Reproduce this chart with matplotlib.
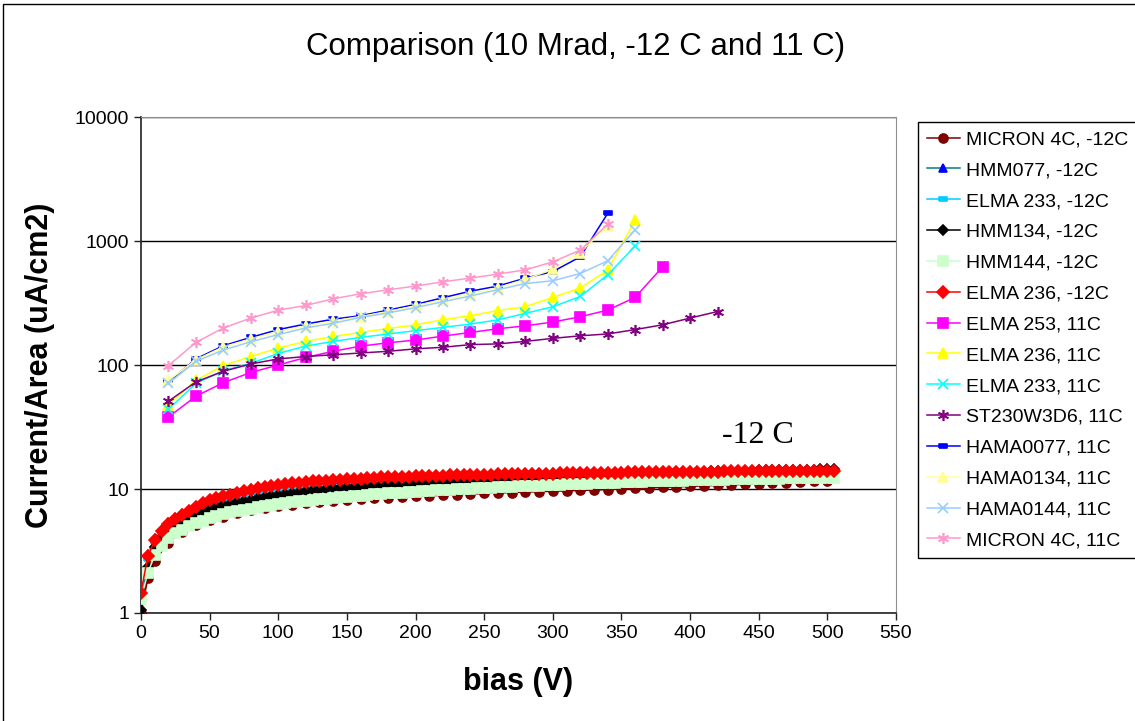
import matplotlib.pyplot as plt
from matplotlib.patches import Rectangle
from matplotlib.ticker import NullLocator
import numpy as np

plt.rcParams['font.family'] = ['Liberation Sans', 'DejaVu Sans']

# bias grids (V)
bias_cold = np.arange(0, 510, 5)
bias_micron_cold = np.concatenate([[0, 5, 10], np.arange(20, 510, 10)])
bias_warm_340 = np.arange(20, 341, 20)
bias_warm_360 = np.arange(20, 361, 20)
bias_warm_380 = np.arange(20, 381, 20)
bias_warm_420 = np.arange(20, 421, 20)

# -12 C series (uA/cm2)
micron_cold = [1.0, 1.9, 2.64,
               3.7, 4.5, 5.1, 5.6, 6.0, 6.4, 6.75, 7.05, 7.3, 7.45,
               7.65, 7.8, 7.95, 8.1, 8.25, 8.4, 8.5, 8.6, 8.7, 8.8,
               8.9, 9.0, 9.1, 9.2, 9.3, 9.35, 9.45, 9.5, 9.6, 9.65,
               9.75, 9.8, 9.9, 10.0, 10.1, 10.2, 10.3, 10.4, 10.5, 10.6,
               10.7, 10.8, 10.9, 11.0, 11.1, 11.2, 11.35, 11.5, 11.65]

hmm077_cold = [1.3, 3.0, 4.0, 4.75, 5.4, 5.9, 6.35, 6.8, 7.35, 7.85,
               8.25, 8.6, 8.9, 9.2, 9.5, 9.8, 10.1, 10.35, 10.6, 10.8,
               11.0, 11.15, 11.3, 11.45, 11.6, 11.7, 11.8, 11.9, 12.0, 12.1,
               12.2, 12.3, 12.35, 12.45, 12.5, 12.6, 12.65, 12.7, 12.75, 12.8,
               12.9, 12.95, 13.0, 13.05, 13.05, 13.1, 13.15, 13.15, 13.2, 13.25,
               13.3, 13.3, 13.35, 13.4, 13.4, 13.45, 13.5, 13.5, 13.55, 13.55,
               13.6, 13.6, 13.65, 13.65, 13.7, 13.7, 13.75, 13.75, 13.8, 13.8,
               13.85, 13.85, 13.9, 13.9, 13.95, 13.95, 14.0, 14.0, 14.0, 14.05,
               14.05, 14.05, 14.05, 14.05, 14.05, 14.05, 14.05, 14.05, 14.05, 14.05,
               14.05, 14.05, 14.05, 14.05, 14.05, 14.05, 14.05, 14.05, 14.05, 14.05,
               14.05, 14.05]

elma233_cold = [1.37, 2.75, 3.75, 4.45, 5.0, 5.5, 5.95, 6.35, 6.8, 7.2,
                7.55, 7.8, 8.0, 8.3, 8.55, 8.9, 9.2, 9.35, 9.5, 9.65,
                9.8, 9.9, 10.0, 10.1, 10.2, 10.3, 10.4, 10.5, 10.6, 10.7,
                10.8, 10.85, 10.9, 10.95, 11.0, 11.05, 11.1, 11.15, 11.2, 11.25,
                11.3, 11.35, 11.4, 11.4, 11.45, 11.5, 11.55, 11.55, 11.6, 11.65,
                11.7, 11.7, 11.75, 11.8, 11.8, 11.85, 11.85, 11.9, 11.9, 11.95,
                12.0, 12.0, 12.05, 12.05, 12.1, 12.1, 12.1, 12.15, 12.15, 12.2,
                12.2, 12.2, 12.2, 12.25, 12.25, 12.25, 12.3, 12.3, 12.3, 12.3,
                12.3, 12.3, 12.35, 12.35, 12.35, 12.35, 12.4, 12.4, 12.4, 12.4,
                12.4, 12.4, 12.45, 12.45, 12.45, 12.45, 12.5, 12.5, 12.5, 12.5,
                12.5, 12.5]

hmm134_cold = [1.05, 2.36, 3.38, 4.1, 4.65, 5.1, 5.5, 5.95, 6.35, 6.65,
               6.95, 7.2, 7.4, 7.6, 7.8, 8.0, 8.2, 8.4, 8.6, 8.8,
               9.0, 9.15, 9.3, 9.45, 9.6, 9.75, 9.9, 10.0, 10.1, 10.2,
               10.3, 10.4, 10.5, 10.6, 10.7, 10.8, 10.9, 11.0, 11.05, 11.1,
               11.2, 11.3, 11.4, 11.45, 11.5, 11.6, 11.65, 11.7, 11.8, 11.9,
               12.0, 12.05, 12.1, 12.2, 12.25, 12.3, 12.35, 12.4, 12.5, 12.55,
               12.6, 12.65, 12.7, 12.75, 12.8, 12.85, 12.9, 13.0, 13.05, 13.1,
               13.2, 13.25, 13.3, 13.35, 13.4, 13.45, 13.5, 13.55, 13.6, 13.65,
               13.7, 13.75, 13.8, 13.85, 13.9, 13.9, 13.95, 14.0, 14.05, 14.05,
               14.1, 14.15, 14.2, 14.2, 14.25, 14.3, 14.3, 14.35, 14.35, 14.4,
               14.4, 14.45]

hmm144_cold = [1.3, 2.1, 2.93, 3.5, 4.0, 4.4, 4.7, 5.0, 5.3, 5.5,
               5.8, 6.05, 6.3, 6.5, 6.65, 6.8, 6.95, 7.1, 7.25, 7.4,
               7.55, 7.7, 7.8, 7.95, 8.05, 8.15, 8.25, 8.35, 8.45, 8.55,
               8.65, 8.75, 8.85, 8.95, 9.05, 9.1, 9.2, 9.3, 9.35, 9.45,
               9.5, 9.6, 9.65, 9.75, 9.8, 9.85, 9.95, 10.0, 10.05, 10.1,
               10.2, 10.25, 10.3, 10.35, 10.4, 10.5, 10.55, 10.6, 10.65, 10.7,
               10.8, 10.85, 10.9, 10.95, 11.0, 11.05, 11.1, 11.15, 11.2, 11.25,
               11.3, 11.35, 11.4, 11.45, 11.5, 11.55, 11.6, 11.6, 11.65, 11.7,
               11.75, 11.8, 11.8, 11.85, 11.9, 11.9, 11.95, 12.0, 12.0, 12.05,
               12.1, 12.1, 12.15, 12.15, 12.2, 12.2, 12.25, 12.25, 12.3, 12.3,
               12.35, 12.35]

elma236_cold = [1.46, 2.87, 3.85, 4.6, 5.2, 5.75, 6.15, 6.6, 7.2, 7.7,
                8.1, 8.4, 8.7, 9.0, 9.3, 9.6, 9.9, 10.1, 10.4, 10.6,
                10.8, 10.95, 11.1, 11.25, 11.4, 11.5, 11.6, 11.7, 11.8, 11.9,
                12.0, 12.1, 12.15, 12.25, 12.3, 12.4, 12.45, 12.5, 12.55, 12.6,
                12.65, 12.7, 12.75, 12.8, 12.8, 12.85, 12.9, 12.9, 12.95, 13.0,
                13.0, 13.05, 13.1, 13.1, 13.15, 13.2, 13.2, 13.25, 13.25, 13.3,
                13.3, 13.35, 13.35, 13.4, 13.4, 13.45, 13.45, 13.5, 13.5, 13.55,
                13.55, 13.6, 13.6, 13.6, 13.65, 13.65, 13.7, 13.7, 13.7, 13.75,
                13.75, 13.75, 13.8, 13.8, 13.8, 13.85, 13.85, 13.85, 13.9, 13.9,
                13.9, 13.9, 13.95, 13.95, 13.95, 13.95, 14.0, 14.0, 14.0, 14.0,
                14.05, 14.05]

# 11 C series (uA/cm2)
elma253_warm = [38, 56, 72, 87, 100, 115, 129, 142, 151, 159,
                171, 183, 196, 207, 222, 245, 277, 351, 619]
elma236_warm = [48, 75, 99, 117, 137, 155, 170, 183, 197, 211,
                232, 250, 275, 295, 351, 417, 582, 1470]
elma233_warm = [44, 71, 90, 103, 124, 142, 155, 167, 178, 189,
                201, 214, 231, 261, 295, 357, 534, 910]
st230_warm = [51, 73, 89, 102, 112, 117, 121, 125, 129, 135,
              139, 146, 148, 155, 164, 172, 178, 193, 211, 239, 270]
hama0077_warm = [73, 112, 143, 167, 193, 214, 234, 250, 277, 308,
                 349, 394, 433, 502, 567, 745, 1670]
hama0134_warm = [75, 110, 140, 162, 186, 206, 226, 246, 270, 300,
                 336, 375, 420, 490, 593, 807, 1330]
hama0144_warm = [71, 107, 132, 154, 176, 199, 217, 242, 263, 290,
                 324, 360, 405, 454, 478, 547, 692, 1230]
micron_warm = [99, 152, 199, 239, 277, 302, 342, 375, 404, 433,
               469, 502, 541, 585, 679, 844, 1365]

rect = [(-1, -0.45), (1, -0.45), (1, 0.45), (-1, 0.45), (-1, -0.45)]
star = (6, 2, 0)

series = [
    ('MICRON 4C, -12C', bias_micron_cold, micron_cold, '#800000', '#800000', 'o', 6.5),
    ('HMM077, -12C', bias_cold, hmm077_cold, '#008080', '#0000ff', '^', 6),
    ('ELMA 233, -12C', bias_cold, elma233_cold, '#00ccff', '#00ccff', rect, 6),
    ('HMM134, -12C', bias_cold, hmm134_cold, '#000000', '#000000', 'D', 5),
    ('HMM144, -12C', bias_cold, hmm144_cold, '#ccffcc', '#ccffcc', 's', 7),
    ('ELMA 236, -12C', bias_cold, elma236_cold, '#ff0000', '#ff0000', 'D', 6),
    ('ELMA 253, 11C', bias_warm_380, elma253_warm, '#ff00ff', '#ff00ff', 's', 7),
    ('ELMA 236, 11C', bias_warm_360, elma236_warm, '#ffff00', '#ffff00', '^', 7.5),
    ('ELMA 233, 11C', bias_warm_360, elma233_warm, '#00ffff', '#00ffff', 'x', 7),
    ('ST230W3D6, 11C', bias_warm_420, st230_warm, '#800080', '#800080', star, 8),
    ('HAMA0077, 11C', bias_warm_340, hama0077_warm, '#0000ff', '#0000ff', rect, 6),
    ('HAMA0134, 11C', bias_warm_340, hama0134_warm, '#ffff99', '#ffff99', '^', 7),
    ('HAMA0144, 11C', bias_warm_360, hama0144_warm, '#99ccff', '#99ccff', 'x', 7),
    ('MICRON 4C, 11C', bias_warm_340, micron_warm, '#ff99cc', '#ff99cc', star, 8),
]

fig = plt.figure(figsize=(11.35, 7.21), dpi=100)
ax = fig.add_axes([0.1242, 0.1498, 0.6652, 0.6879])

for i, (label, x, y, lc, mc, mk, ms) in enumerate(series):
    ax.plot(x, y, color=lc, lw=1.1, marker=mk, markersize=ms,
            markerfacecolor=mc, markeredgecolor=mc, markeredgewidth=1.2,
            label=label, zorder=3 + i * 0.1)

ax.set_yscale('log')
ax.set_xlim(0, 550)
ax.set_ylim(1, 10000)
ax.set_xticks(np.arange(0, 551, 50))
ax.set_yticks([1, 10, 100, 1000, 10000])
ax.set_yticklabels(['1', '10', '100', '1000', '10000'])
ax.yaxis.set_minor_locator(NullLocator())
ax.tick_params(direction='out', length=5, width=1, labelsize=14, color='#222222')
ax.grid(axis='y', which='major', color='black', lw=1.0)
ax.set_axisbelow(True)
for side in ['top', 'right']:
    ax.spines[side].set_color('#909090')
for side in ['left', 'bottom']:
    ax.spines[side].set_color('#222222')
    ax.spines[side].set_linewidth(1.2)

fig.text(0.5075, 0.935, 'Comparison (10 Mrad, -12 C and 11 C)', fontsize=22.5,
         ha='center', va='center')
ax.set_xlabel('bias (V)', fontsize=22, fontweight='bold', labelpad=18)
ax.set_ylabel('Current/Area (uA/cm2)', fontsize=22, fontweight='bold', labelpad=14)

ax.text(423, 27, '-12 C', fontsize=23, family=['Liberation Serif', 'DejaVu Serif'],
        ha='left', va='center')

leg = fig.legend(loc='upper left', bbox_to_anchor=(0.8088, 0.8308), fontsize=14,
                 frameon=True, fancybox=False, edgecolor='black', framealpha=1,
                 handlelength=1.7, handletextpad=0.3, labelspacing=0.68,
                 borderpad=0.45, borderaxespad=0)
leg.get_frame().set_linewidth(1.0)

# outer chart frame (right and bottom edges fall outside the image)
fig.patches.append(Rectangle((0.0026, -0.1), 1.2, 1.0945, transform=fig.transFigure,
                             fill=False, edgecolor='black', lw=1.0))

fig.savefig('out.png', dpi=100)
